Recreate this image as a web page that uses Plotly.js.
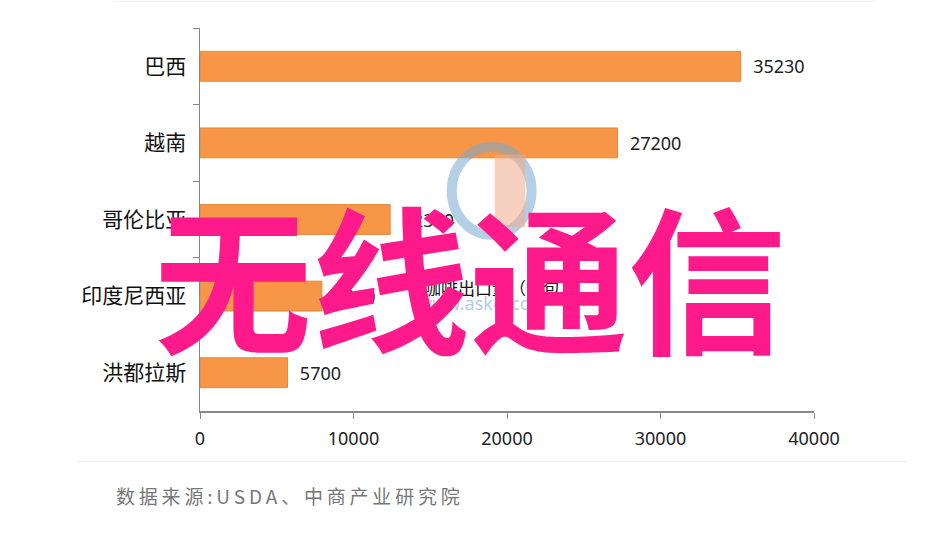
<!DOCTYPE html>
<html>
<head>
<meta charset="utf-8">
<script src="https://cdn.plot.ly/plotly-3.0.1.min.js"></script>
<style>html,body{margin:0;padding:0;background:#fff;}#chart{width:931px;height:539px;}</style>
</head>
<body>
<div id="chart"></div>
<script>
const countries = ["巴西", "越南", "哥伦比亚", "印度尼西亚", "洪都拉斯"];
const exports = [35230, 27200, 12390, 7940, 5700];
const xTicks = [0, 10000, 20000, 30000, 40000];
const chartTitle = "咖啡出口量（千包）";
const overlayText = "无线通信";
const sourceText = "数据来源:USDA、中商产业研究院";

const trace = {
  type: "bar",
  orientation: "h",
  y: countries,
  x: exports,
  width: 0.39,
  marker: {color: "#F69646", line: {color: "#E8893C", width: 1}},
  text: exports.map(v => "\u00a0\u00a0" + v),
  textposition: "outside",
  textfont: {family: "Noto Sans, DejaVu Sans, sans-serif", size: 18, color: "#222"},
  cliponaxis: false,
  hoverinfo: "none"
};

const spaced = sourceText.split("").join("\u2009");

const layout = {
  width: 931, height: 539,
  margin: {l: 200, r: 117, t: 28, b: 128},
  paper_bgcolor: "#fff", plot_bgcolor: "#fff",
  showlegend: false,
  xaxis: {
    range: [0, 40000], tickvals: xTicks, ticktext: xTicks.map(String),
    showgrid: false, zeroline: false, showline: true, linecolor: "#888", linewidth: 1.5,
    ticks: "outside", ticklen: 6, tickcolor: "#888", ticklabelstandoff: 5,
    tickfont: {family: "Noto Sans, DejaVu Sans, sans-serif", size: 18, color: "#222"}
  },
  yaxis: {
    autorange: "reversed", type: "category",
    showgrid: false, zeroline: false, showline: true, linecolor: "#888", linewidth: 1.5,
    ticks: "outside", tickson: "boundaries", ticklen: 6, tickcolor: "#888",
    ticklabelstandoff: 8,
    tickfont: {family: "Noto Sans CJK SC, sans-serif", size: 21, color: "#111"}
  },
  shapes: [
    {type: "line", xref: "paper", yref: "paper", x0: -0.14, x1: 1.1, y0: 1.07, y1: 1.07, line: {color: "#eee", width: 1}},
    {type: "line", xref: "paper", yref: "paper", x0: -0.2, x1: 1.15, y0: -0.132, y1: -0.132, line: {color: "#eee", width: 1}},
    {type: "circle", xref: "paper", yref: "paper", x0: 0.41, x1: 0.54, y0: 0.46, y1: 0.69, line: {color: "rgba(120,170,210,0.55)", width: 10}, fillcolor: "rgba(0,0,0,0)"},
    {type: "rect", xref: "paper", yref: "paper", x0: 0.48, x1: 0.53, y0: 0.48, y1: 0.67, line: {width: 0}, fillcolor: "rgba(240,170,140,0.55)"}
  ],
  annotations: [
    {xref: "paper", yref: "paper", x: 0.46, y: 0.245, text: "www.askci.com", showarrow: false,
     font: {family: "Noto Sans, sans-serif", size: 18, color: "rgba(120,170,210,0.6)"}},
    {xref: "paper", yref: "paper", x: 0.49, y: 0.285, text: chartTitle, showarrow: false,
     font: {family: "Noto Sans CJK SC, sans-serif", size: 17, color: "#111"}},
    {xref: "paper", yref: "paper", x: 0.44, y: 0.055, text: overlayText, showarrow: false,
     font: {family: "Noto Sans CJK SC, sans-serif", size: 158, color: "#FF1A8C", weight: 700}},
    {xref: "paper", yref: "paper", x: -0.14, y: -0.262, xanchor: "left", text: spaced, showarrow: false,
     font: {family: "Noto Sans CJK SC, sans-serif", size: 19, color: "#777"}}
  ]
};

Plotly.newPlot("chart", [trace], layout, {displayModeBar: false, staticPlot: true});
</script>
</body>
</html>
